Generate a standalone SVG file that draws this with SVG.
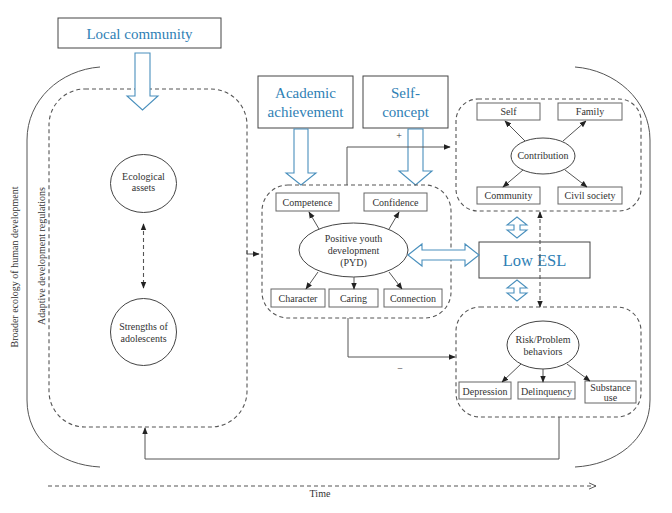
<svg xmlns="http://www.w3.org/2000/svg" width="672" height="513" viewBox="0 0 672 513">
<defs>
<marker id="ah" viewBox="0 0 10 10" refX="9" refY="5" markerWidth="7" markerHeight="7" orient="auto-start-reverse" markerUnits="userSpaceOnUse">
<path d="M0,1 L10,5 L0,9 Z" fill="#222"/>
</marker>
<marker id="oh" viewBox="0 0 10 10" refX="9" refY="5" markerWidth="8" markerHeight="8" orient="auto" markerUnits="userSpaceOnUse">
<path d="M0,1 L9,5 L0,9" fill="none" stroke="#555" stroke-width="1.2"/>
</marker>
<style>
text{font-family:'Liberation Serif','DejaVu Serif',serif}
.t{fill:#333;font-size:10px;text-anchor:middle}
.b{fill:#2f7fb5;text-anchor:middle}
.box{fill:#fff;stroke:#666;stroke-width:1}
.bbox{fill:#fff;stroke:#444;stroke-width:1}
.dash{fill:none;stroke:#555;stroke-width:1.1;stroke-dasharray:4,3}
.ln{fill:none;stroke:#555;stroke-width:1}
.barrow{fill:#fff;stroke:#4a90bd;stroke-width:1.1}
.el{fill:#fff;stroke:#444;stroke-width:1}
</style>
</defs>
<rect width="672" height="513" fill="#fff"/>

<g id="outer">
<path class="ln" d="M100,67 C60,70 27,100 27,140 L27,400 C27,440 60,465 100,467" stroke="#444"/>
<path class="ln" d="M575,67 C615,70 650,100 650,140 L650,400 C650,440 615,465 575,467" stroke="#444"/>
<text class="t" font-size="10.7" transform="translate(18,267) rotate(-90)">Broader ecology of human development</text>
<text class="t" font-size="10.3" transform="translate(45,256) rotate(-90)">Adaptive development regulations</text>
</g>

<g id="time">
<line x1="48" y1="486" x2="596" y2="486" class="dash" marker-end="url(#oh)"/>
<text class="t" x="320" y="497" font-size="10">Time</text>
</g>

<g id="adaptive-box">
<rect x="49" y="89" width="198" height="338" rx="36" class="dash"/>
</g>

<g id="local-community">
<rect x="58" y="18" width="163" height="30" class="bbox"/>
<text class="b" x="139.5" y="38.5" font-size="15">Local community</text>
<path class="barrow" d="M135,53 L150,53 L150,96 L158,96 L142.5,110 L127,96 L135,96 Z"/>
</g>

<g id="ecological-assets">
<ellipse cx="143.5" cy="183.5" rx="33" ry="29" class="el"/>
<text class="t" x="143.5" y="180" font-size="10">Ecological</text>
<text class="t" x="143.5" y="191" font-size="10">assets</text>
</g>

<g id="strengths">
<ellipse cx="143.5" cy="332" rx="33" ry="33.5" class="el"/>
<text class="t" x="143.5" y="330" font-size="10">Strengths of</text>
<text class="t" x="143.5" y="342" font-size="10">adolescents</text>
</g>

<g id="academic">
<rect x="258" y="76" width="95" height="52" class="bbox"/>
<text class="b" x="305.5" y="98" font-size="15">Academic</text>
<text class="b" x="305.5" y="117" font-size="15">achievement</text>
<path class="barrow" d="M294,129 L308,129 L308,173 L316,173 L301,185 L286,173 L294,173 Z"/>
</g>

<g id="self-concept">
<rect x="363" y="76" width="85" height="52" class="bbox"/>
<text class="b" x="405.5" y="98" font-size="15">Self-</text>
<text class="b" x="405.5" y="117" font-size="15">concept</text>
<path class="barrow" d="M408,129 L423,129 L423,171 L432,171 L415.5,185 L399,171 L408,171 Z"/>
</g>

<g id="pyd">
<rect x="262" y="185" width="189" height="133" rx="26" class="dash"/>
<rect x="276" y="193" width="63" height="18" class="box"/>
<text class="t" x="307.5" y="205.5" font-size="10">Competence</text>
<rect x="364" y="193" width="63" height="18" class="box"/>
<text class="t" x="395.5" y="205.5" font-size="10">Confidence</text>
<ellipse cx="353.5" cy="250" rx="54.5" ry="27" class="el"/>
<text class="t" x="353.5" y="242" font-size="10">Positive youth</text>
<text class="t" x="353.5" y="254" font-size="10">development</text>
<text class="t" x="353.5" y="266" font-size="10">(PYD)</text>
<rect x="271" y="289" width="54" height="18" class="box"/>
<text class="t" x="298" y="302" font-size="11">Character</text>
<rect x="329" y="289" width="49" height="18" class="box"/>
<text class="t" x="353.5" y="302" font-size="11">Caring</text>
<rect x="384" y="289" width="58" height="18" class="box"/>
<text class="t" x="413" y="302" font-size="11">Connection</text>
</g>

<g id="contribution">
<rect x="456" y="99" width="185" height="112" rx="22" class="dash"/>
<rect x="477" y="103" width="63" height="17" class="box"/>
<text class="t" x="508.5" y="115" font-size="10">Self</text>
<rect x="558" y="103" width="64" height="17" class="box"/>
<text class="t" x="590" y="115" font-size="10">Family</text>
<ellipse cx="543" cy="156" rx="32" ry="18" class="el"/>
<text class="t" x="543" y="159" font-size="10">Contribution</text>
<rect x="477" y="187" width="63" height="17" class="box"/>
<text class="t" x="508.5" y="199" font-size="10">Community</text>
<rect x="558" y="187" width="64" height="17" class="box"/>
<text class="t" x="590" y="199" font-size="10">Civil society</text>
</g>

<g id="risk">
<rect x="456" y="307" width="185" height="110" rx="24" class="dash"/>
<ellipse cx="543" cy="345" rx="36" ry="24" class="el"/>
<text class="t" x="543" y="343" font-size="10">Risk/Problem</text>
<text class="t" x="543" y="355" font-size="10">behaviors</text>
<rect x="459" y="382" width="52" height="17" class="box"/>
<text class="t" x="485" y="394.5" font-size="10.5">Depression</text>
<rect x="518" y="382" width="57" height="17" class="box"/>
<text class="t" x="546.5" y="394.5" font-size="10.5">Delinquency</text>
<rect x="585" y="381" width="51" height="22" class="box"/>
<text class="t" x="610.5" y="391" font-size="9.5">Substance</text>
<text class="t" x="610.5" y="401" font-size="9.5">use</text>
</g>

<g id="low-esl">
<rect x="479" y="242" width="111" height="36" class="bbox"/>
<text class="b" x="534.5" y="265.5" font-size="16.5">Low ESL</text>
</g>

<g id="connectors">
<line x1="143.5" y1="224" x2="143.5" y2="288" class="dash" stroke-dasharray="3,3" marker-start="url(#ah)" marker-end="url(#ah)"/>
<path class="ln" d="M247,250 L247,254 L259,254" marker-end="url(#ah)"/>
<path class="ln" d="M347,185 L347,147 L450,147" marker-end="url(#ah)"/>
<text class="t" x="399" y="139" font-size="10">+</text>
<path class="ln" d="M348,318 L348,357 L455,357" marker-end="url(#ah)"/>
<text class="t" x="400" y="372" font-size="10">−</text>
<path class="ln" d="M559,417 L559,459 L145,459 L145,428" marker-end="url(#ah)"/>
<line x1="319" y1="229" x2="309" y2="212" class="ln" marker-end="url(#ah)"/>
<line x1="389" y1="229" x2="399" y2="212" class="ln" marker-end="url(#ah)"/>
<line x1="318" y1="272" x2="306" y2="289" class="ln" marker-end="url(#ah)"/>
<line x1="354" y1="277" x2="354" y2="289" class="ln" marker-end="url(#ah)"/>
<line x1="389" y1="272" x2="402" y2="289" class="ln" marker-end="url(#ah)"/>
<line x1="525" y1="141" x2="505" y2="121" class="ln" marker-end="url(#ah)"/>
<line x1="563" y1="141" x2="586" y2="121" class="ln" marker-end="url(#ah)"/>
<line x1="523" y1="170" x2="503" y2="187" class="ln" marker-end="url(#ah)"/>
<line x1="565" y1="170" x2="587" y2="187" class="ln" marker-end="url(#ah)"/>
<line x1="521" y1="364" x2="502" y2="382" class="ln" marker-end="url(#ah)"/>
<line x1="543" y1="369" x2="543" y2="382" class="ln" marker-end="url(#ah)"/>
<line x1="567" y1="364" x2="590" y2="381" class="ln" marker-end="url(#ah)"/>
<line x1="540" y1="212" x2="540" y2="307" class="dash" stroke-dasharray="4,3" marker-start="url(#ah)" marker-end="url(#ah)"/>
<path class="barrow" d="M408,255 L422,244 L422,250 L465,250 L465,244 L479,255 L465,266 L465,260 L422,260 L422,266 Z"/>
<path class="barrow" d="M517,217 L527,225 L520,225 L520,230 L527,230 L517,238 L507,230 L514,230 L514,225 L507,225 Z"/>
<path class="barrow" d="M517,280 L527,288 L520,288 L520,293 L527,293 L517,301 L507,293 L514,293 L514,288 L507,288 Z"/>
</g>
</svg>
